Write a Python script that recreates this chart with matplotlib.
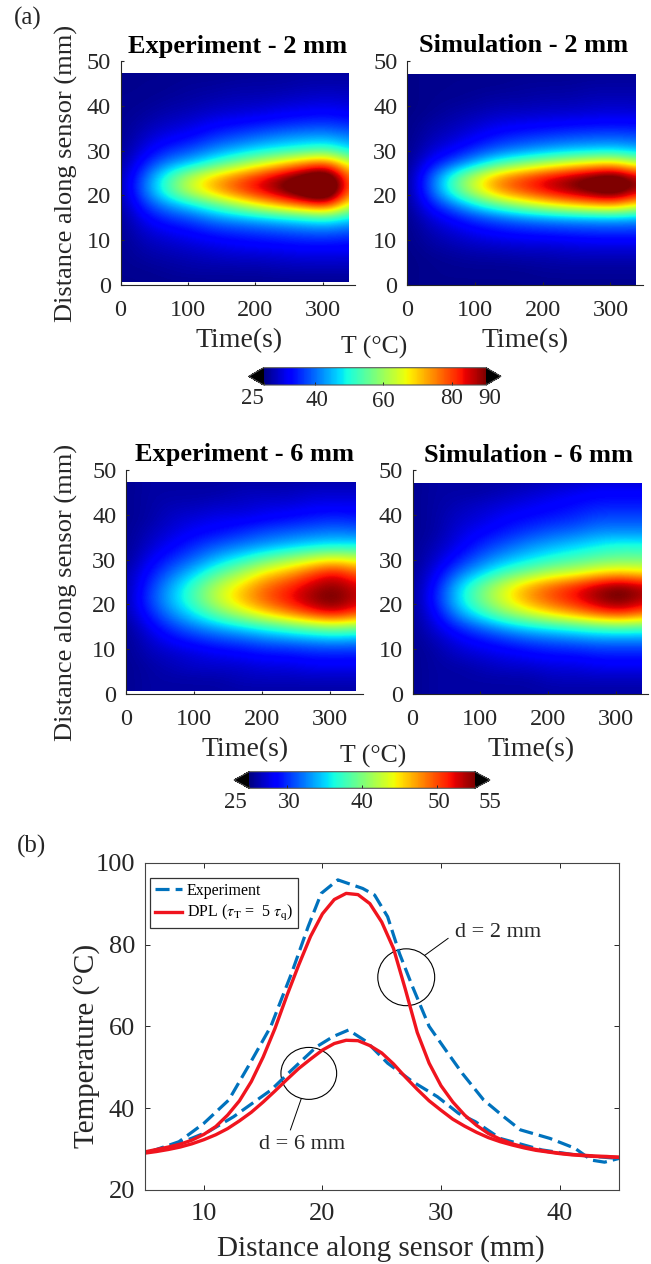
from __future__ import annotations

import matplotlib

matplotlib.use("Agg")
import matplotlib.pyplot as plt
from matplotlib.cm import ScalarMappable
from matplotlib.colors import Normalize
from matplotlib.patches import Ellipse, Rectangle

plt.rcParams["font.family"] = ["Liberation Serif", "DejaVu Serif"]
plt.rcParams["mathtext.fontset"] = "stix"

W, H = 651, 1264
INK = "#262626"

# Temperature maps: one row per time, 0 to 340 s in 34 s steps,
# one value per distance, 0 to 48 mm in 3 mm steps
MAP_TIMES = [0, 34, 68, 102, 136, 170, 204, 238, 272, 306, 340]
MAP_DISTS = [0, 3, 6, 9, 12, 15, 18, 21, 24, 27, 30, 33, 36, 39, 42, 45, 48]

EXP_2MM = [
    [26, 26, 26, 26, 26, 26, 26.5, 27, 27, 26.5, 26, 26, 26, 26, 26, 26, 26],
    [26, 26, 27, 28, 29.5, 32, 36, 40, 39, 34.5, 31, 29, 27.5, 26.5, 26, 26, 26],
    [26, 26.5, 27.5, 29, 31.5, 36, 43, 53, 52, 42, 35.5, 31.5, 29, 27.5, 26.5, 26, 26],
    [26, 27, 28, 30, 33, 38, 48, 64, 63, 46, 38, 33, 30, 28, 27, 26.5, 26],
    [26, 27, 28.5, 31, 35, 42, 54, 72, 71, 52, 42, 36, 32, 29, 27.5, 26.5, 26],
    [26, 27, 29, 32, 36, 44, 61, 79, 77, 58, 45, 38, 33, 29.5, 28, 27, 26],
    [26, 27, 29, 32.5, 37, 46, 68, 85, 83, 64, 48, 40, 34, 30, 28, 27, 26.5],
    [26, 27.5, 29.5, 33, 38, 48, 74, 91, 89, 70, 50, 42, 35, 31, 28.5, 27, 26.5],
    [26, 27.5, 30, 33.5, 39, 50, 80, 98, 95, 76, 52, 43, 36, 31.5, 29, 27.5, 27],
    [26, 27.5, 30, 33.5, 39.5, 52, 85, 104, 101, 80, 54, 43.5, 36.5, 32, 29.5, 27.5, 27],
    [26, 27.5, 30, 33, 38, 47, 63, 74, 74, 63, 47, 41, 35, 31, 29, 27.5, 27],
]
SIM_2MM = [
    [25.5, 25.5, 25.5, 25.5, 25.5, 25.5, 25.5, 25.5, 25.5, 25.5, 25.5, 25.5, 25.5, 25.5, 25.5, 25.5, 25.5],
    [26, 26, 26, 27, 28, 30, 34, 38, 38, 33, 29.5, 28, 27, 26, 26, 26, 26],
    [26, 26, 26.5, 28, 30, 33.5, 41, 53, 53, 39, 32.5, 29.5, 28, 27, 26, 26, 26],
    [26, 26, 27, 29, 32, 37, 49, 65, 65, 46, 36.5, 32, 29.5, 27.5, 26.5, 26, 26],
    [26, 26, 27, 29.5, 33.5, 39.5, 56, 75, 75, 53, 40, 34.5, 31, 28.5, 27, 26, 26],
    [26, 26, 27.5, 30, 34.5, 41.5, 62, 80, 80, 58, 42, 36, 31.5, 28.5, 27, 26.5, 26],
    [26, 26.5, 27.5, 30, 35, 43, 67, 85, 85, 62, 44, 37, 32, 29, 27.5, 26.5, 26],
    [26, 26.5, 28, 30.5, 35.5, 44, 71, 89, 89, 66, 45.5, 38, 32.5, 29, 27.5, 26.5, 26],
    [26, 26.5, 28, 31, 36, 44.5, 74, 93, 93, 69, 46.5, 38.5, 33, 29.5, 28, 27, 26],
    [26, 26.5, 28, 31, 36, 45, 76, 97, 97, 71, 47, 39, 33, 30, 28, 27, 26],
    [26, 26.5, 28, 31, 36, 44, 68, 87, 87, 63, 45, 38, 33, 29.5, 28, 27, 26],
]
EXP_6MM = [
    [25.5, 25.5, 25.5, 25.5, 25.5, 25.5, 26, 26, 26, 26, 25.5, 25.5, 25.5, 25.5, 25.5, 25.5, 25.5],
    [26, 26, 26, 26.5, 27, 28, 29.5, 30.5, 30, 29, 28, 27, 26.5, 26, 26, 26, 26],
    [26, 26, 26.5, 27, 28.5, 30.5, 33, 34.5, 34, 32, 30, 28.5, 27.5, 27, 26.5, 26, 26],
    [26, 26, 27, 27.5, 29.5, 32.5, 36, 38.5, 38, 35, 32, 30, 28.5, 27.5, 26.5, 26, 26],
    [26, 26, 27, 28, 30.5, 34, 39.5, 43, 42.5, 38.5, 34.5, 31.5, 29, 28, 27, 26, 26],
    [26, 26.5, 27, 28.5, 31, 35.5, 42.5, 46.5, 45.5, 41.5, 36.5, 32.5, 30, 28, 27, 26.5, 26],
    [26, 26.5, 27.5, 29, 32, 37, 45.5, 49.5, 49, 45, 39, 33.5, 31, 28.5, 27.5, 26.5, 26],
    [26, 26.5, 27.5, 29, 32.5, 38.5, 48, 52, 51, 47, 41, 34.5, 31.5, 29, 27.5, 26.5, 26],
    [26, 26.5, 28, 29.5, 33, 40, 51, 54.5, 53.5, 50, 43, 35.5, 32, 29.5, 28, 27, 26],
    [26, 26.5, 28, 29.5, 33.5, 41, 53, 56, 55, 52.5, 44.5, 36, 32.5, 30, 28, 27, 26],
    [26, 26.5, 28, 29.5, 33, 40, 50, 53, 52.5, 49, 43, 36, 32, 29.5, 28, 27, 26],
]
SIM_6MM = [
    [25.5, 25.5, 25.5, 25.5, 25.5, 25.5, 25.5, 25.5, 25.5, 25.5, 25.5, 25.5, 25.5, 25.5, 25.5, 25.5, 25.5],
    [26, 26, 26, 26, 26.5, 27.5, 28.5, 29.5, 29, 28, 27, 26.5, 26, 26, 26, 26, 26],
    [26, 26, 26, 27, 28, 30, 33.5, 35.5, 35, 32, 29.5, 28, 27.5, 27, 26.5, 26, 26],
    [26, 26, 26.5, 27.5, 29, 32, 37, 40, 39.5, 35, 32, 30, 28.5, 27.5, 27, 26, 26],
    [26, 26, 27, 28, 30, 34, 40.5, 44, 43.5, 38, 34, 31.5, 29.5, 28.5, 27.5, 26.5, 26],
    [26, 26, 27, 28.5, 31, 35.5, 43, 47.5, 47, 40, 35.5, 33, 30.5, 29, 28, 27, 26],
    [26, 26.5, 27.5, 29, 31.5, 36.5, 45.5, 50, 49.5, 42, 37, 34, 31.5, 29.5, 28.5, 27.5, 26.5],
    [26, 26.5, 27.5, 29, 32, 37.5, 47.5, 52, 51.5, 43, 38, 35, 32, 30, 29, 28, 26.5],
    [26, 26.5, 28, 29.5, 32.5, 38.5, 50, 54.5, 54, 45, 39, 36, 33, 31, 29.5, 28.5, 27],
    [26, 26.5, 28, 29.5, 32.5, 39, 51.5, 56, 55.5, 46, 39.5, 37, 33, 31, 29.5, 28.5, 27],
    [26, 26.5, 28, 29.5, 32.5, 38.5, 49, 53.5, 53.5, 45, 39.5, 36.5, 33, 31, 29.5, 28.5, 27],
]

TIME_TICKS = [0, 100, 200, 300]
DIST_TICKS = [0, 10, 20, 30, 40, 50]
CBAR_2MM_TICKS = [25, 40, 60, 80, 90]
CBAR_6MM_TICKS = [25, 30, 40, 50, 55]

# Line chart
DIST_RED = list(range(5, 46))
DPL_2MM = [29.3, 29.9, 30.5, 31.2, 32.2, 33.6, 35.5, 38.3, 41.8, 46.5, 52.5, 59.5, 67.5, 75, 82, 87.5,
           91, 92.5, 92.2, 90, 85.5, 79, 69, 58.5, 51, 45.5, 41.5, 38.3, 35.8, 33.8, 32.4, 31.3, 30.5,
           29.9, 29.4, 29, 28.7, 28.5, 28.3, 28.2, 28]
DPL_6MM = [29, 29.4, 29.9, 30.5, 31.3, 32.3, 33.5, 35, 36.9, 39, 41.5, 44.2, 47, 49.7, 52, 54.2,
           55.8, 56.6, 56.5, 55.3, 53.5, 50.8, 47.6, 44.6, 41.8, 39.5, 37.3, 35.6, 34.1, 32.8, 31.8,
           31, 30.3, 29.7, 29.3, 28.9, 28.6, 28.4, 28.2, 28.1, 28]
EXP_2MM_X = [5.5, 7.9, 10, 12.1, 13.9, 15.65, 17.4, 18.8, 19.9, 21.3, 23.4, 24.4, 25.5, 26.5, 27.6, 29,
             30.4, 31.8, 33.6, 35.3, 36.7, 39.2, 41.3, 42.7, 43.8, 45]
EXP_2MM_T = [29.4, 31.8, 36.3, 42, 51, 60, 73, 84.4, 92.5, 95.8, 93.7, 92.1, 86.8, 77.8, 69.7, 60,
             54.2, 48.5, 42, 37.9, 34.7, 32.6, 30.2, 27.3, 26.8, 27.7]
EXP_6MM_X = [5.5, 7.9, 10.4, 12.5, 13.9, 15.65, 17.4, 19.5, 20.9, 22.2, 23.7, 25.5, 27.6, 29.7, 31.5,
             32.9, 35, 38.5, 41.3, 45]
EXP_6MM_T = [29.4, 31.4, 34.3, 37.9, 40.8, 44.4, 49.3, 55, 57.5, 59.1, 56.3, 51, 46.5, 42.8, 38.7,
             36.7, 32.6, 29.8, 28.6, 27.7]


def px_axes(fig, left, right, top, bottom):
    return fig.add_axes([left / W, 1 - bottom / H, (right - left) / W, (bottom - top) / H])


def fig_text(fig, x, y, s, **kw):
    kw.setdefault("color", INK)
    kw.setdefault("ha", "center")
    kw.setdefault("va", "center")
    fig.text(x / W, 1 - y / H, s, **kw)


def heat_panel(fig, box, image_top, image_bottom, temps, norm, title, title_xy, time_x):
    left, right, top, bottom = box
    ax = px_axes(fig, left, right, top, bottom)
    step_t = MAP_TIMES[1] - MAP_TIMES[0]
    step_d = MAP_DISTS[1] - MAP_DISTS[0]
    extent = [
        MAP_TIMES[0] - step_t / 2,
        MAP_TIMES[-1] + step_t / 2,
        MAP_DISTS[0] - step_d / 2,
        MAP_DISTS[-1] + step_d / 2,
    ]
    # rows of the tables are times, imshow wants them as columns
    grid = list(map(list, zip(*temps)))
    im = ax.imshow(grid, cmap="jet", norm=norm, origin="lower", extent=extent, aspect="auto", interpolation="bicubic")
    im.set_clip_path(Rectangle((0, image_bottom), 337, image_top - image_bottom, transform=ax.transData))
    ax.set_xlim(0, 348)
    ax.set_ylim(0, 50)
    ax.set_xticks(TIME_TICKS)
    ax.set_yticks(DIST_TICKS)
    ax.tick_params(direction="in", length=2.5, width=0.8, labelsize=17.5, colors=INK)
    ax.tick_params(axis="x", pad=11)
    ax.tick_params(axis="y", pad=7)
    ax.spines[["top", "right"]].set_visible(False)
    for side in ("left", "bottom"):
        ax.spines[side].set_color(INK)
    fig_text(fig, title_xy[0], title_xy[1], title, fontsize=19, fontweight="bold", color="black")
    fig_text(fig, time_x, title_xy[1] + 295, "Time(s)", fontsize=20)
    return ax


def colorbar(fig, box, vmin, vmax, ticks, label_xy, label_pos):
    left, right, top, bottom = box
    cax = px_axes(fig, left, right, top, bottom)
    cmap = plt.get_cmap("jet").with_extremes(under="black", over="black")
    mappable = ScalarMappable(norm=Normalize(vmin, vmax), cmap=cmap)
    cb = fig.colorbar(mappable, cax=cax, orientation="horizontal", extend="both", extendfrac=0.067)
    cb.set_ticks(ticks)
    cb.set_ticklabels([""] * len(ticks))
    cb.ax.tick_params(direction="in", length=2, width=0.7, colors=INK)
    cb.outline.set_edgecolor("#555555")
    fig_text(fig, label_xy[0], label_xy[1], "T (°C)", fontsize=18.5)
    for tick, (x, y) in zip(ticks, label_pos):
        fig_text(fig, x, y, str(tick), fontsize=16.5)


def line_panel(fig):
    ax = px_axes(fig, 144.6, 618.8, 862.7, 1190)
    ax.plot(EXP_2MM_X, EXP_2MM_T, color="#0072BD", lw=2.3, dashes=(4.4, 1.9), label="Experiment")
    ax.plot(EXP_6MM_X, EXP_6MM_T, color="#0072BD", lw=2.3, dashes=(4.4, 1.9))
    ax.plot(DIST_RED, DPL_2MM, color="#F0141E", lw=2.4, label=r"DPL ($\tau_{\mathrm{T}}$ =  5 $\tau_{\mathrm{q}}$)")
    ax.plot(DIST_RED, DPL_6MM, color="#F0141E", lw=2.4)
    ax.set_xlim(5, 45)
    ax.set_ylim(20, 100)
    ax.set_xticks([10, 20, 30, 40])
    ax.set_yticks([20, 40, 60, 80, 100])
    ax.tick_params(direction="in", length=3.5, width=0.7, top=True, right=True, labelsize=19, colors=INK)
    ax.tick_params(axis="x", pad=9)
    ax.tick_params(axis="y", pad=7)
    for spine in ax.spines.values():
        spine.set_color("#444444")
        spine.set_linewidth(0.8)
    fig_text(fig, 381, 1249, "Distance along sensor (mm)", fontsize=21)
    fig_text(fig, 87, 1046, "Temperature (°C)", fontsize=21, rotation=90)

    ax.add_patch(Ellipse((27.07, 72), 4.8, 13.9, fill=False, ec="black", lw=0.8))
    ax.add_patch(Ellipse((18.85, 48.5), 4.7, 12.7, fill=False, ec="black", lw=0.8))
    ax.plot([28.65, 30.6], [77.4, 81.5], color="black", lw=0.7)
    ax.plot([18.2, 17.3], [42.2, 34.7], color="black", lw=0.7)
    ax.text(34.8, 82.9, "d = 2 mm", fontsize=16, ha="center", va="center", color=INK)
    ax.text(18.3, 31, "d = 6 mm", fontsize=16, ha="center", va="center", color=INK)

    leg = ax.legend(
        loc="upper left",
        bbox_to_anchor=(0.0115, 0.954),
        borderaxespad=0,
        fontsize=11.5,
        fancybox=False,
        framealpha=1,
        edgecolor="#333333",
        handlelength=1.7,
        handletextpad=0.3,
        borderpad=0.3,
        labelspacing=0.3,
    )
    leg.get_frame().set_linewidth(0.9)


def main() -> None:
    fig = plt.figure(figsize=(W / 100, H / 100), dpi=100)
    norm_2mm = Normalize(25, 90)
    norm_6mm = Normalize(25, 55)

    heat_panel(fig, (120.5, 355.4, 61, 285), 47.4, 0.7, EXP_2MM, norm_2mm, "Experiment - 2 mm", (238, 46), 239)
    heat_panel(fig, (407, 643, 61, 285), 47.0, 0.0, SIM_2MM, norm_2mm, "Simulation - 2 mm", (524, 46), 525)
    heat_panel(fig, (126, 362.5, 470, 694), 47.4, 0.7, EXP_6MM, norm_6mm, "Experiment - 6 mm", (244, 455), 245)
    heat_panel(fig, (412.5, 648, 470, 694), 47.0, 0.0, SIM_6MM, norm_6mm, "Simulation - 6 mm", (529, 455), 531)

    colorbar(fig, (248.7, 501, 367.7, 385), 25, 90, CBAR_2MM_TICKS, (374, 347),
             [(252, 399), (317, 401), (383, 402), (452, 399), (490, 398)])
    colorbar(fig, (234, 490, 771.7, 788.3), 25, 55, CBAR_6MM_TICKS, (373, 756),
             [(235, 802), (289, 803), (362, 803), (439, 802), (490, 802)])

    fig_text(fig, 66, 173, "Distance along sensor (mm)", fontsize=19, rotation=90)
    fig_text(fig, 66, 592, "Distance along sensor (mm)", fontsize=19, rotation=90)
    fig_text(fig, 28, 18, "(a)", fontsize=18)
    fig_text(fig, 31, 846, "(b)", fontsize=18)

    line_panel(fig)
    fig.savefig("out.png", dpi=100)
    plt.close(fig)


if __name__ == "__main__":
    main()
